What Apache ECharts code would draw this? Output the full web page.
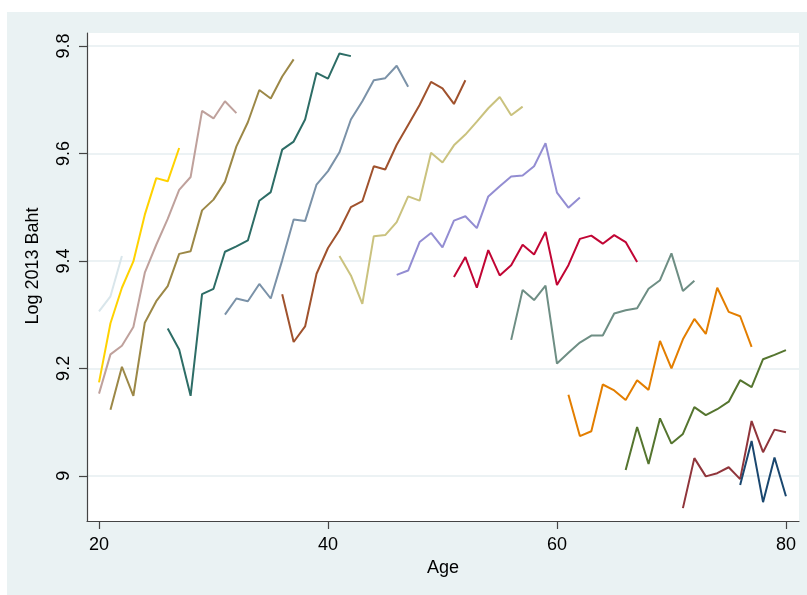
<!DOCTYPE html>
<html>
<head>
<meta charset="utf-8">
<script src="https://cdn.jsdelivr.net/npm/echarts@6/dist/echarts.min.js"></script>
<style>
  html, body { margin: 0; padding: 0; background: #fff; }
  #chart { position: absolute; left: 7px; top: 12px; width: 800px; height: 583px; background: #EAF2F3; }
</style>
</head>
<body>
<div id="chart"></div>
<script>
  // age ticks / log income ticks
  var xTicks = [20, 40, 60, 80]
  var yTicks = [9, 9.2, 9.4, 9.6, 9.8]

  // first age observed for each cohort
  var startAges = [20, 20, 20, 21, 26, 31, 36, 41, 46, 51, 56, 61, 66, 71, 76]

  // log 2013 baht, one value per year of age
  var c01 = [9.306, 9.334, 9.409]
  var c02 = [9.174, 9.284, 9.35, 9.399, 9.486, 9.554, 9.548, 9.61]
  var c03 = [9.153, 9.226, 9.242, 9.277, 9.378, 9.43, 9.478, 9.532, 9.556, 9.679, 9.665, 9.697, 9.675]
  var c04 = [9.123, 9.203, 9.149, 9.285, 9.325, 9.353, 9.413, 9.418, 9.494, 9.514, 9.547, 9.613, 9.658, 9.718, 9.702, 9.743, 9.775]
  var c05 = [9.274, 9.235, 9.149, 9.338, 9.348, 9.417, 9.427, 9.438, 9.512, 9.528, 9.607, 9.622, 9.663, 9.75, 9.739, 9.786, 9.781]
  var c06 = [9.30, 9.330, 9.325, 9.357, 9.330, 9.401, 9.477, 9.474, 9.542, 9.567, 9.602, 9.663, 9.697, 9.736, 9.74, 9.763, 9.724]
  var c07 = [9.338, 9.249, 9.278, 9.376, 9.424, 9.457, 9.50, 9.511, 9.576, 9.570, 9.616, 9.653, 9.69, 9.733, 9.721, 9.692, 9.736]
  var c08 = [9.409, 9.373, 9.320, 9.446, 9.448, 9.472, 9.520, 9.512, 9.601, 9.583, 9.615, 9.635, 9.659, 9.684, 9.705, 9.671, 9.687]
  var c09 = [9.374, 9.382, 9.435, 9.452, 9.425, 9.475, 9.483, 9.461, 9.520, 9.539, 9.557, 9.559, 9.576, 9.619, 9.527, 9.499, 9.518]
  var c10 = [9.370, 9.407, 9.350, 9.42, 9.373, 9.392, 9.430, 9.412, 9.454, 9.355, 9.392, 9.441, 9.447, 9.432, 9.448, 9.435, 9.398]
  var c11 = [9.253, 9.346, 9.327, 9.354, 9.209, 9.229, 9.248, 9.261, 9.261, 9.302, 9.308, 9.312, 9.348, 9.364, 9.414, 9.344, 9.363]
  var c12 = [9.151, 9.074, 9.083, 9.17, 9.159, 9.141, 9.178, 9.160, 9.251, 9.200, 9.254, 9.292, 9.264, 9.350, 9.305, 9.297, 9.240]
  var c13 = [9.011, 9.091, 9.022, 9.107, 9.060, 9.078, 9.128, 9.113, 9.124, 9.138, 9.178, 9.165, 9.217, 9.225, 9.234]
  var c14 = [8.940, 9.033, 8.999, 9.005, 9.016, 8.994, 9.102, 9.044, 9.086, 9.081]
  var c15 = [8.983, 9.065, 8.951, 9.034, 8.962]

  var cohorts = [c01, c02, c03, c04, c05, c06, c07, c08, c09, c10, c11, c12, c13, c14, c15]

  // stata s2color palette, reversed
  var colors = ['#D9E6EB', '#FFD200', '#BFA19C', '#9C8847', '#2D6D66', '#7B92A8', '#A0522D', '#CAC27E',
    '#938DD2', '#C10534', '#6E8E84', '#E37E00', '#55752F', '#90353B', '#1A476F']

  var font = 'Liberation Sans, Arial, sans-serif'

  var chart = echarts.init(document.getElementById('chart'), null, { renderer: 'canvas' })

  var series = cohorts.map(function (vals, i) {
    return {
      name: 'cohort ' + (i + 1),
      type: 'line',
      showSymbol: false,
      symbol: 'none',
      silent: true,
      lineStyle: { width: 2, color: colors[i] },
      itemStyle: { color: colors[i] },
      data: vals.map(function (v, k) { return [startAges[i] + k, v] })
    }
  })

  chart.setOption({
    backgroundColor: '#EAF2F3',
    animation: false,
    grid: {
      left: 80,
      right: 8,
      top: 21,
      bottom: 74,
      show: true,
      backgroundColor: '#fff',
      borderWidth: 0
    },
    xAxis: {
      type: 'value',
      min: 18.95,
      max: 81.14,
      name: 'Age',
      nameLocation: 'middle',
      nameGap: 36,
      nameTextStyle: { fontFamily: font, fontSize: 18, color: '#000' },
      axisLine: { show: true, onZero: false, lineStyle: { color: '#444', width: 1.2 } },
      axisTick: { show: true, length: 8, customValues: xTicks, lineStyle: { color: '#444', width: 1.2 } },
      axisLabel: { customValues: xTicks, margin: 15, fontFamily: font, fontSize: 18, color: '#000' },
      splitLine: { show: false }
    },
    yAxis: {
      type: 'value',
      min: 8.916,
      max: 9.824,
      name: 'Log 2013 Baht',
      nameLocation: 'middle',
      nameRotate: 90,
      nameGap: 45,
      // shift the title up a little, as in the original
      nameTextStyle: { fontFamily: font, fontSize: 18, color: '#000', padding: [0, 0, 0, 22] },
      axisLine: { show: true, onZero: false, lineStyle: { color: '#444', width: 1.2 } },
      axisTick: { show: true, length: 8, customValues: yTicks, lineStyle: { color: '#444', width: 1.2 } },
      axisLabel: {
        customValues: yTicks,
        rotate: 90,
        margin: 14,
        fontFamily: font,
        fontSize: 18,
        color: '#000',
        formatter: function (v) { return String(v) }
      },
      splitLine: { show: true, lineStyle: { color: '#E6EEF0', width: 1.5 } }
    },
    series: series
  })
</script>
</body>
</html>
